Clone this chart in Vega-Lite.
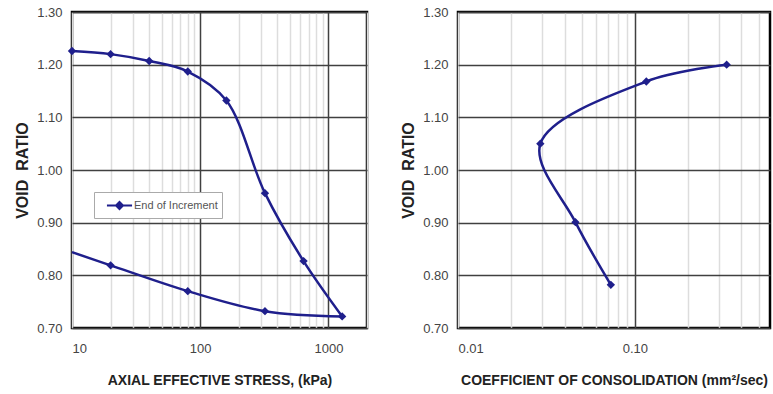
{
  "$schema": "https://vega.github.io/schema/vega-lite/v6.json",
  "background": "white",
  "padding": {"left": 13, "top": 4, "right": 0, "bottom": 4},
  "spacing": 30,
  "config": {
    "view": {"stroke": "black", "strokeWidth": 2.5},
    "axis": {
      "labelFont": "Liberation Sans",
      "titleFont": "Liberation Sans",
      "labelFontSize": 13,
      "labelColor": "#444444",
      "titleColor": "#222222",
      "titleFontWeight": "bold",
      "titleFontSize": 14,
      "ticks": false,
      "domain": false,
      "grid": true
    },
    "legend": {
      "orient": "none",
      "legendX": 22,
      "legendY": 180,
      "title": null,
      "symbolType": "M-1.5,0H1.5M0,-0.42L0.42,0L0,0.42L-0.42,0Z",
      "symbolSize": 280,
      "symbolStrokeWidth": 2,
      "symbolStrokeColor": "#1f1f8c",
      "labelFont": "Liberation Sans",
      "labelFontSize": 11,
      "labelColor": "#555555",
      "padding": 4,
      "symbolOffset": 12,
      "labelOffset": 5,
      "strokeColor": "#aaaaaa",
      "fillColor": "white"
    }
  },
  "hconcat": [
    {
      "width": 295,
      "height": 316,
      "data": {
        "values": [
          {"stress": 10, "e": 1.226, "branch": "load", "seq": 1, "marker": true, "series": "End of Increment"},
          {"stress": 20, "e": 1.220, "branch": "load", "seq": 2, "marker": true, "series": "End of Increment"},
          {"stress": 40, "e": 1.207, "branch": "load", "seq": 3, "marker": true, "series": "End of Increment"},
          {"stress": 80, "e": 1.187, "branch": "load", "seq": 4, "marker": true, "series": "End of Increment"},
          {"stress": 160, "e": 1.132, "branch": "load", "seq": 5, "marker": true, "series": "End of Increment"},
          {"stress": 320, "e": 0.956, "branch": "load", "seq": 6, "marker": true, "series": "End of Increment"},
          {"stress": 640, "e": 0.827, "branch": "load", "seq": 7, "marker": true, "series": "End of Increment"},
          {"stress": 1280, "e": 0.722, "branch": "load", "seq": 8, "marker": true, "series": "End of Increment"},
          {"stress": 1280, "e": 0.722, "branch": "unload", "seq": 9, "marker": false, "series": "End of Increment"},
          {"stress": 320, "e": 0.732, "branch": "unload", "seq": 10, "marker": true, "series": "End of Increment"},
          {"stress": 80, "e": 0.770, "branch": "unload", "seq": 11, "marker": true, "series": "End of Increment"},
          {"stress": 20, "e": 0.819, "branch": "unload", "seq": 12, "marker": true, "series": "End of Increment"},
          {"stress": 10, "e": 0.844, "branch": "unload", "seq": 13, "marker": false, "series": "End of Increment"}
        ]
      },
      "layer": [
        {
          "mark": {"type": "line", "interpolate": "catmull-rom", "strokeWidth": 2.5, "color": "#1f1f8c"},
          "encoding": {
            "x": {
              "field": "stress", "type": "quantitative",
              "scale": {"type": "log", "domain": [10, 2000], "nice": false},
              "axis": {
                "title": "AXIAL EFFECTIVE STRESS, (kPa)",
                "values": [10, 20, 30, 40, 50, 60, 70, 80, 90, 100, 200, 300, 400, 500, 600, 700, 800, 900, 1000, 2000],
                "labelExpr": "datum.value == 10 ? '10' : datum.value == 100 ? '100' : datum.value == 1000 ? '1000' : ''",
                "labelOverlap": false,
                "labelPadding": 14,
                "titlePadding": 18,
                "gridColor": {"condition": {"test": "datum.value == 100 || datum.value == 1000", "value": "#404040"}, "value": "#dddddd"},
                "gridWidth": 1.5
              }
            },
            "y": {
              "field": "e", "type": "quantitative",
              "scale": {"domain": [0.7, 1.3], "nice": false, "zero": false},
              "axis": {
                "title": "VOID\u00a0\u00a0RATIO",
                "titleFontSize": 16,
                "values": [0.7, 0.8, 0.9, 1.0, 1.1, 1.2, 1.3],
                "format": ".2f",
                "labelPadding": 10,
                "titlePadding": 6,
                "gridColor": "#404040",
                "gridWidth": 1.5
              }
            },
            "detail": {"field": "branch"},
            "order": {"field": "seq"}
          }
        },
        {
          "transform": [{"filter": "datum.marker"}],
          "mark": {"type": "point", "shape": "diamond", "filled": true, "size": 70, "opacity": 1},
          "encoding": {
            "x": {"field": "stress", "type": "quantitative"},
            "y": {"field": "e", "type": "quantitative"},
            "color": {"field": "series", "type": "nominal", "scale": {"range": ["#1f1f8c"]}}
          }
        }
      ]
    },
    {
      "width": 312,
      "height": 316,
      "data": {
        "values": [
          {"cv": 0.33, "e": 1.200, "seq": 1},
          {"cv": 0.116, "e": 1.168, "seq": 2},
          {"cv": 0.0292, "e": 1.050, "seq": 3},
          {"cv": 0.0461, "e": 0.901, "seq": 4},
          {"cv": 0.0731, "e": 0.782, "seq": 5}
        ]
      },
      "layer": [
        {
          "mark": {"type": "line", "interpolate": "catmull-rom", "strokeWidth": 2.5, "color": "#1f1f8c"},
          "encoding": {
            "x": {
              "field": "cv", "type": "quantitative",
              "scale": {"type": "log", "domain": [0.01, 0.58], "nice": false},
              "axis": {
                "title": "COEFFICIENT OF CONSOLIDATION (mm²/sec)",
                "values": [0.01, 0.02, 0.03, 0.04, 0.05, 0.06, 0.07, 0.08, 0.09, 0.1, 0.2, 0.3, 0.4, 0.5],
                "labelExpr": "datum.value == 0.01 ? '0.01' : datum.value == 0.1 ? '0.10' : ''",
                "labelOverlap": false,
                "labelPadding": 14,
                "titlePadding": 18,
                "gridColor": {"condition": {"test": "datum.value == 0.1", "value": "#404040"}, "value": "#dddddd"},
                "gridWidth": 1.5
              }
            },
            "y": {
              "field": "e", "type": "quantitative",
              "scale": {"domain": [0.7, 1.3], "nice": false, "zero": false},
              "axis": {
                "title": "VOID\u00a0\u00a0RATIO",
                "titleFontSize": 16,
                "values": [0.7, 0.8, 0.9, 1.0, 1.1, 1.2, 1.3],
                "format": ".2f",
                "labelPadding": 10,
                "titlePadding": 6,
                "gridColor": "#404040",
                "gridWidth": 1.5
              }
            },
            "order": {"field": "seq"}
          }
        },
        {
          "mark": {"type": "point", "shape": "diamond", "filled": true, "size": 70, "opacity": 1, "color": "#1f1f8c"},
          "encoding": {
            "x": {"field": "cv", "type": "quantitative"},
            "y": {"field": "e", "type": "quantitative"}
          }
        }
      ]
    }
  ]
}
